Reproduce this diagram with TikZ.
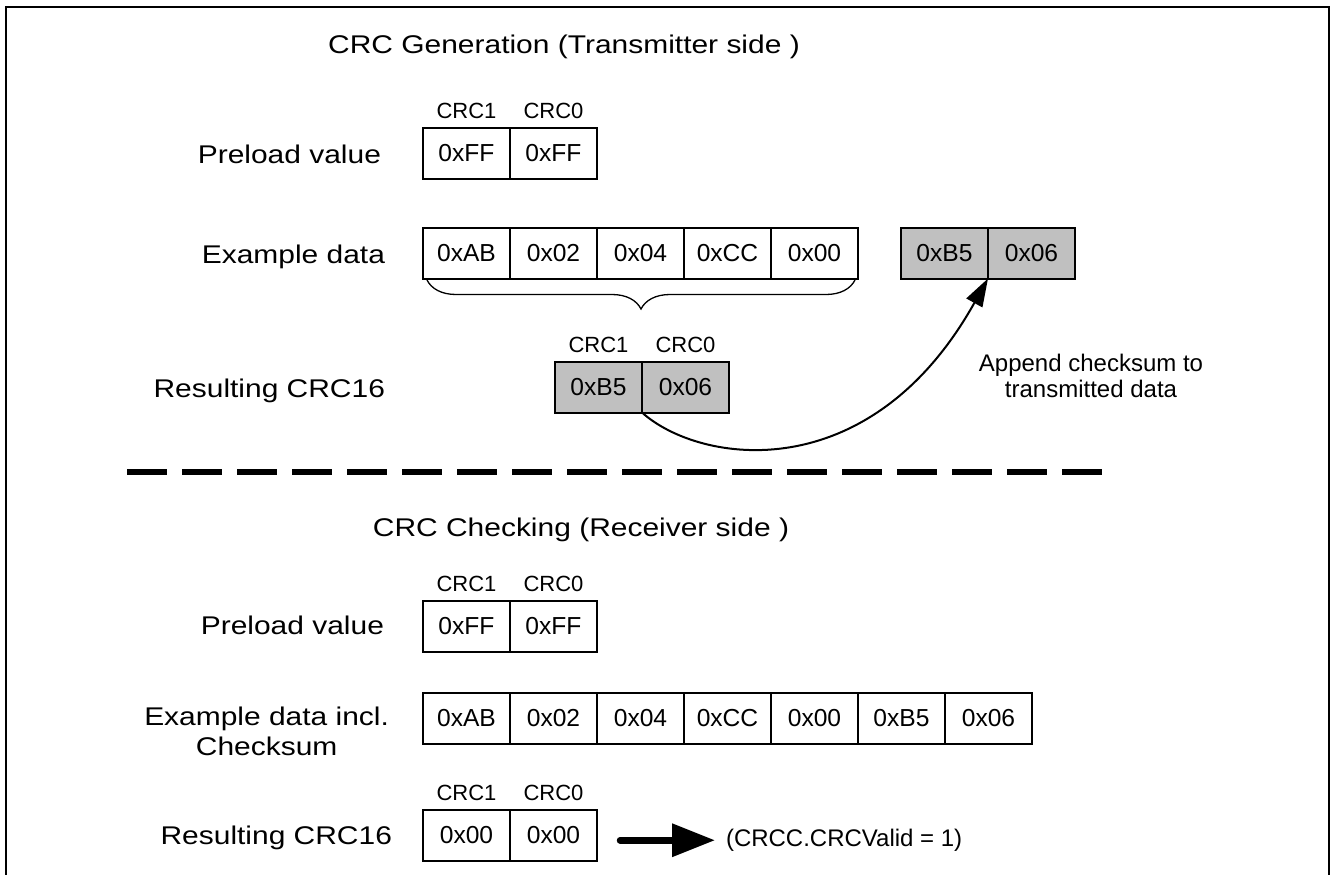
\documentclass[tikz,border=0pt]{standalone}
\usepackage{fontspec}
\setmainfont{Liberation Sans}
\newfontfamily\widesans{Liberation Sans}[FakeStretch=1.17]
\usetikzlibrary{arrows.meta, positioning, calc, decorations.pathreplacing}
\definecolor{cellgrey}{HTML}{C0C0C0}
\tikzset{
  every picture/.style={line width=2pt},
  cell/.style={draw, fill=#1, minimum width=87pt, minimum height=50.5pt, inner sep=0pt, outer sep=0pt, font=\fontsize{24.6}{28}\selectfont},
  cell/.default=white,
  rowlabel/.style={anchor=base east, inner sep=0pt, align=center, font=\widesans\fontsize{25.6}{30}\selectfont},
  bytelabel/.style={inner sep=0pt, font=\fontsize{22}{25}\selectfont},
  heading/.style={anchor=base, inner sep=0pt, font=\widesans\fontsize{25.6}{30}\selectfont},
  note/.style={align=center, inner sep=0pt, font=\fontsize{24}{26}\selectfont},
  curvearrow/.style={-{Triangle[length=28pt, width=18pt]}},
  bigarrow/.style={-{Triangle[length=43pt, width=32pt]}, line width=6.5pt, line cap=round},
  separator/.style={line width=6pt, dash pattern=on 40pt off 15pt},
}

\begin{document}
\begin{tikzpicture}[x=1pt, y=-1pt, node distance=0pt]
  \useasboundingbox (0,0) rectangle (1333,875);
  \draw (6,875) -- (6,7) -- (1329,7) -- (1329,875);

  % transmitter side
  \node[heading] (gentitle) at (564,53) {CRC Generation (Transmitter side )};

  \node[rowlabel] (genpre) at (382,163) {Preload value};
  \node[cell, anchor=north west] (pre1) at (423,128) {0xFF};
  \node[cell, right=of pre1] (pre2) {0xFF};
  \node[bytelabel, above=8pt of pre1] (pre1lbl) {CRC1};
  \node[bytelabel, above=8pt of pre2] (pre2lbl) {CRC0};

  \node[rowlabel] (gendata) at (386,263) {Example data};
  \node[cell, anchor=north west] (d1) at (423,228) {0xAB};
  \node[cell, right=of d1] (d2) {0x02};
  \node[cell, right=of d2] (d3) {0x04};
  \node[cell, right=of d3] (d4) {0xCC};
  \node[cell, right=of d4] (d5) {0x00};
  \draw[line width=1.3pt, decorate, decoration={brace, amplitude=29pt}]
    ([xshift=-3pt, yshift=-1.5pt]d5.south east) -- ([xshift=4pt, yshift=-1.5pt]d1.south west);

  \node[cell=cellgrey, anchor=north west] (app1) at (901,228) {0xB5};
  \node[cell=cellgrey, right=of app1] (app2) {0x06};

  \node[rowlabel] (genres) at (386,397) {Resulting CRC16};
  \node[cell=cellgrey, anchor=north west] (res1) at (555,362) {0xB5};
  \node[cell=cellgrey, right=of res1] (res2) {0x06};
  \node[bytelabel, above=8pt of res1] (res1lbl) {CRC1};
  \node[bytelabel, above=8pt of res2] (res2lbl) {CRC0};

  \draw[curvearrow] (res1.south east) .. controls ($(res1.south east)+(58,52)$) and ($(app1.south east)+(-118,211)$) .. (app1.south east);
  \node[note] (appendnote) at (1091,376) {Append checksum to\\transmitted data};

  \draw[separator] (127,472) -- (1102,472);

  % receiver side
  \node[heading] (chktitle) at (581,536) {CRC Checking (Receiver side )};

  \node[rowlabel] (chkpre) at (385,634) {Preload value};
  \node[cell, anchor=north west] (bpre1) at (423,601) {0xFF};
  \node[cell, right=of bpre1] (bpre2) {0xFF};
  \node[bytelabel, above=8pt of bpre1] (bpre1lbl) {CRC1};
  \node[bytelabel, above=8pt of bpre2] (bpre2lbl) {CRC0};

  \node[rowlabel, anchor=east] (chkdata) at (390,731) {Example data incl.\\Checksum};
  \node[cell, anchor=north west] (bd1) at (423,693) {0xAB};
  \node[cell, right=of bd1] (bd2) {0x02};
  \node[cell, right=of bd2] (bd3) {0x04};
  \node[cell, right=of bd3] (bd4) {0xCC};
  \node[cell, right=of bd4] (bd5) {0x00};
  \node[cell, right=of bd5] (bd6) {0xB5};
  \node[cell, right=of bd6] (bd7) {0x06};

  \node[rowlabel] (chkres) at (393,844) {Resulting CRC16};
  \node[cell, anchor=north west] (bres1) at (423,810) {0x00};
  \node[cell, right=of bres1] (bres2) {0x00};
  \node[bytelabel, above=8pt of bres1] (bres1lbl) {CRC1};
  \node[bytelabel, above=8pt of bres2] (bres2lbl) {CRC0};

  \node[note, anchor=west] (valid) at ([xshift=128pt, yshift=-5pt]bres2.east) {(CRCC.CRCValid = 1)};
  \draw[bigarrow] ([xshift=23pt]bres2.east |- valid.west) -- ([xshift=-10pt]valid.west);
\end{tikzpicture}
\end{document}
